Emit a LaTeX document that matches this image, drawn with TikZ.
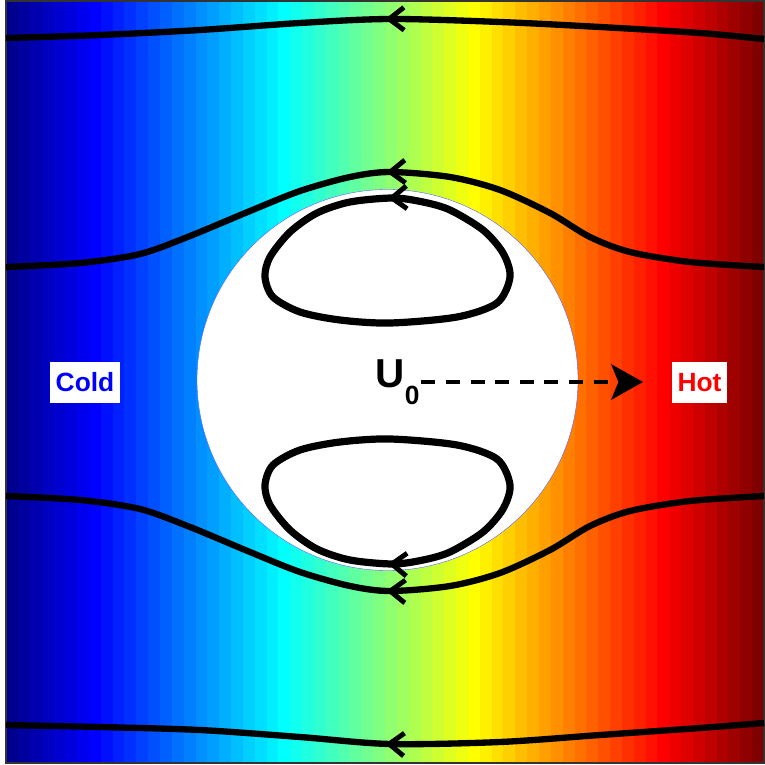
\documentclass[tikz,border=0pt]{standalone}
\usepackage{fontspec}
\setmainfont{Liberation Sans}
\usetikzlibrary{arrows.meta, decorations.markings}

\begin{document}
\begin{tikzpicture}[
  x=0.2mm, y=-0.2mm,
  stream/.style={line width=3.6pt, line join=round, postaction={decorate},
    decoration={markings, mark=at position #1 with
      {\arrow{Straight Barb[length=8.5pt, width=13pt, line width=2.8pt]}}}},
  stream/.default=0.5,
  eddy/.style={stream=#1, line width=4.1pt},
  tag/.style={fill=white, inner sep=3pt, minimum height=23pt,
              font=\bfseries\fontsize{15}{15}\selectfont},
  flow/.style={line width=2.6pt, dash pattern=on 8pt off 6pt,
               -{Stealth[length=18pt, width=20pt, inset=4pt]}},
]

%% Page and temperature field (jet, 64 bands)
\useasboundingbox (0,0) rectangle (764,765);
\fill[white] (0,0) rectangle (764,765);
\foreach \i in {1,...,64} {
  \pgfmathsetmacro\jr{max(0,min(1,1.5-abs(4*\i/64-3)))}
  \pgfmathsetmacro\jg{max(0,min(1,1.5-abs(4*\i/64-2)))}
  \pgfmathsetmacro\jb{max(0,min(1,1.5-abs(4*\i/64-1)))}
  \definecolor{jet}{rgb}{\jr,\jg,\jb}
  \fill[jet] ({6+(\i-1)*11.84375},1) rectangle ({6.5+\i*11.84375},763);
}
\draw[line width=0.6pt, black!80] (6,1) rectangle (764,763);

%% Drop
\fill[white, draw=blue!70, line width=0.2pt] (387.5,380) circle (190.5);

%% Outer streamlines
\draw[stream] plot[smooth] coordinates {(764,39) (700,33) (600,27) (500,22)
  (390,19) (300,23) (200,30) (100,35) (6,38)};
\draw[stream] plot[smooth] coordinates {(764,267) (690,262) (630,252) (590,237)
  (550,213) (500,190) (450,177) (390,172) (350,177) (300,191) (250,211)
  (190,236) (140,254) (80,263) (6,267)};
\draw[stream] plot[smooth] coordinates {(764,496) (690,501) (630,511) (590,526)
  (550,550) (500,573) (450,586) (390,591) (350,586) (300,572) (250,552)
  (190,527) (140,509) (80,500) (6,496)};
\draw[stream] plot[smooth] coordinates {(764,723) (700,728) (600,735) (500,742)
  (390,744) (300,737) (200,730) (100,727) (6,725)};

%% Inner recirculation (closed curve starts at the second point)
\draw[eddy=3pt] plot[smooth cycle] coordinates {(423,202) (393,198) (350,202)
  (317,213) (290,232) (270,257) (265,277) (273,297) (300,312) (340,320)
  (390,323) (457,317) (497,303) (510,277) (503,253) (483,230) (450,210)};
\draw[eddy=3pt] plot[smooth cycle] coordinates {(423,560) (393,564) (350,560)
  (317,549) (290,530) (270,505) (265,485) (273,465) (300,450) (340,442)
  (390,439) (457,445) (497,459) (510,485) (503,509) (483,532) (450,552)};

%% Labels
\node[tag, text=blue] (cold) at (85,382.5) {Cold};
\node[tag, text=red] (hot) at (699.5,382.5) {Hot};
\node[anchor=base west, inner sep=0pt, outer sep=1pt] (u0) at (374,387)
  {\bfseries\fontsize{23}{23}\selectfont U\raisebox{-10pt}{\fontsize{15}{15}\selectfont 0}};
\coordinate (tip) at (643,382);
\draw[flow] (u0.east) -- (u0.east -| tip);

\end{tikzpicture}
\end{document}
